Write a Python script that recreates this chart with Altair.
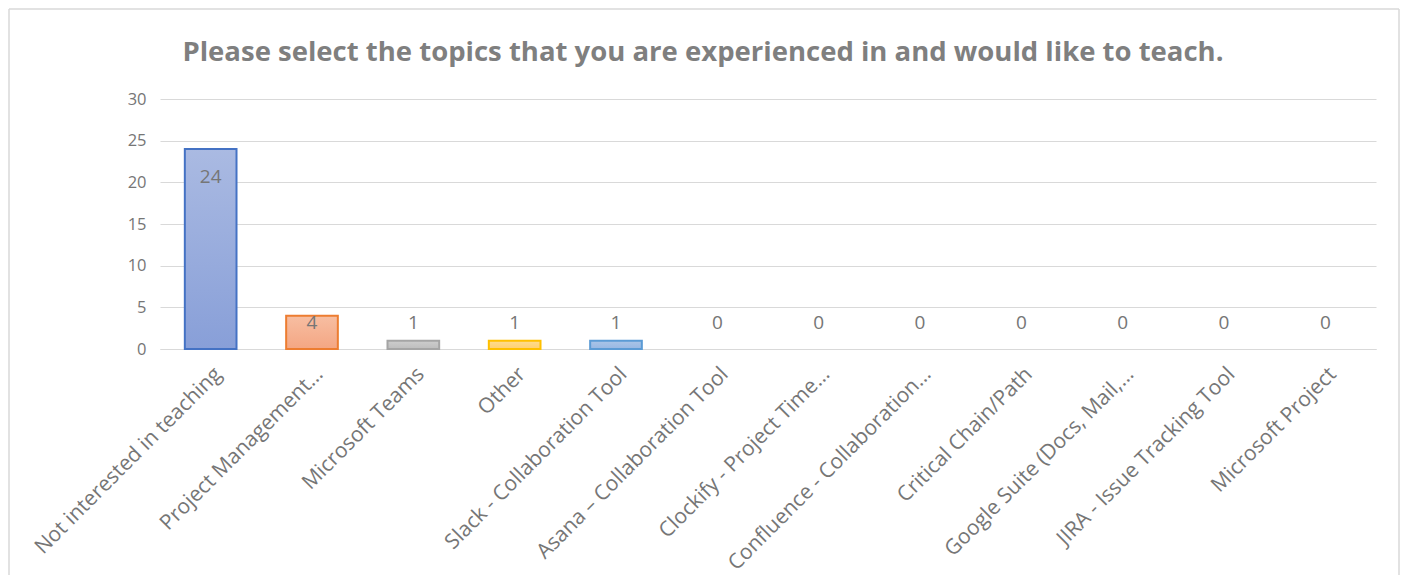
import altair as alt
import pandas as pd

categories = [
    "Not interested in teaching",
    "Project Management…",
    "Microsoft Teams",
    "Other",
    "Slack - Collaboration Tool",
    "Asana – Collaboration Tool",
    "Clockify - Project Time…",
    "Confluence - Collaboration…",
    "Critical Chain/Path",
    "Google Suite (Docs, Mail,…",
    "JIRA - Issue Tracking Tool",
    "Microsoft Project",
]
values = [24, 4, 1, 1, 1, 0, 0, 0, 0, 0, 0, 0]

stroke_colors = ["#4472C4", "#ED7D31", "#A5A5A5", "#FFC000", "#5B9BD5"]
fill_top = ["#AABAE2", "#F7BEA2", "#CDCDCD", "#FFDC90", "#AAC5E8"]
fill_bottom = ["#889FD8", "#F4A683", "#BDBDBD", "#FFD070", "#97B7E3"]

TITLE = "Please select the topics that you are experienced in and would like to teach."
FONT = "Open Sans"
TXT = "#767676"

df = pd.DataFrame({"topic": categories, "count": values})

W, H = 1216, 250
PAD = {"left": 152, "top": 91, "right": 24, "bottom": 226}

xenc = alt.X(
    "topic:N",
    sort=categories,
    scale=alt.Scale(paddingInner=0.49, paddingOuter=0.245),
    axis=alt.Axis(
        title=None,
        labelAngle=-45,
        labelFont=FONT,
        labelFontSize=21,
        labelColor=TXT,
        labelPadding=14,
        ticks=False,
        domainColor="#D9D9D9",
        domainWidth=1,
        labelLimit=500,
        grid=False,
    ),
)
yenc = alt.Y(
    "count:Q",
    scale=alt.Scale(domain=[0, 30], nice=False),
    axis=alt.Axis(
        title=None,
        values=[0, 5, 10, 15, 20, 25, 30],
        labelFont=FONT,
        labelFontSize=16.5,
        labelColor=TXT,
        labelPadding=14,
        ticks=False,
        domain=False,
        gridColor="#D9D9D9",
        gridWidth=1,
    ),
)

base = alt.Chart(df)
one = base.transform_filter(alt.datum.topic == categories[0])

BL, BR, BT, BB = -PAD["left"] + 1, W + PAD["right"] - 1, -PAD["top"] + 1, H + 260
bstyle = dict(color="#D9D9D9", strokeWidth=1.5)
border = [
    one.mark_rule(**bstyle).encode(x=alt.value(BL), y=alt.value(BT), y2=alt.value(BB)),
    one.mark_rule(**bstyle).encode(x=alt.value(BR), y=alt.value(BT), y2=alt.value(BB)),
    one.mark_rule(**bstyle).encode(x=alt.value(BL), x2=alt.value(BR), y=alt.value(BT)),
]

title = one.mark_text(
    text=TITLE, font=FONT, fontSize=27.5, fontWeight="bold", color="#7F7F7F",
    align="center", baseline="middle",
).encode(x=alt.value(543), y=alt.value(-46))

layers = border + [title]
for i in range(len(stroke_colors)):
    grad = alt.Gradient(
        gradient="linear",
        stops=[
            alt.GradientStop(color=fill_top[i], offset=0),
            alt.GradientStop(color=fill_bottom[i], offset=1),
        ],
        x1=0, x2=0, y1=0, y2=1,
    )
    layers.append(
        base.transform_filter(alt.datum.topic == categories[i])
        .mark_bar(fill=grad, stroke=stroke_colors[i], strokeWidth=2)
        .encode(x=xenc, y=yenc)
    )

labels = base.transform_calculate(
    ly="max(datum.count - 3.3, 3.1)"
).mark_text(font=FONT, fontSize=19, color=TXT, baseline="middle").encode(
    x=alt.X("topic:N", sort=categories),
    y=alt.Y("ly:Q"),
    text="count:Q",
)
layers.append(labels)

chart = alt.layer(*layers).properties(
    width=W,
    height=H,
    autosize=alt.AutoSizeParams(type="none"),
    padding=PAD,
    background="white",
).configure_view(stroke=None)

chart.save("out.html", embed_options={"renderer": "svg", "actions": False})
